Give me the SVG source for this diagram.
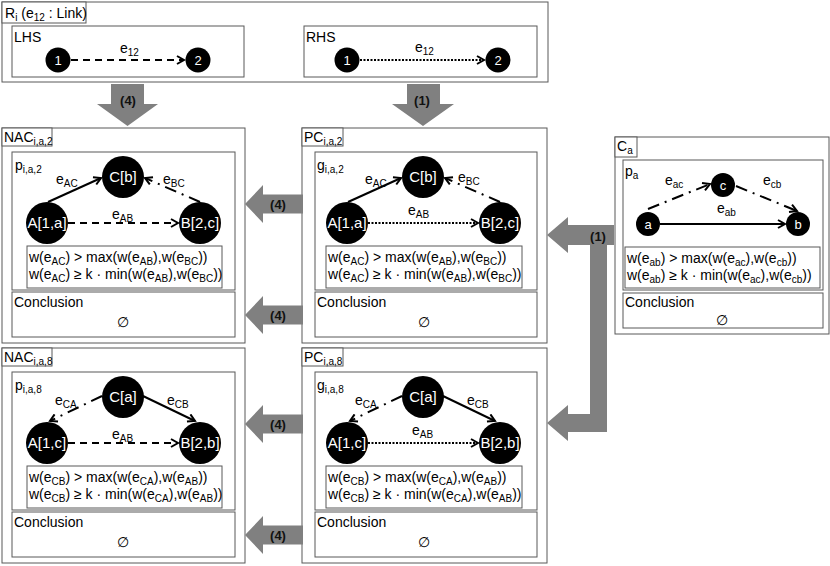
<svg xmlns="http://www.w3.org/2000/svg" width="830" height="566" viewBox="0 0 830 566">
<defs>
<style>
.box{fill:#fff;stroke:#595959;stroke-width:1}
.t{font-family:"Liberation Sans",Arial,sans-serif;font-size:14px;fill:#000}
.s{font-size:10px}
.nt{font-family:"Liberation Sans",Arial,sans-serif;font-size:15px;fill:#fff;text-anchor:middle}
.nts{font-family:"Liberation Sans",Arial,sans-serif;font-size:13px;fill:#fff;text-anchor:middle}
.node{fill:#000}
.big{fill:#808080}
.al{font-family:"Liberation Sans",Arial,sans-serif;font-size:13px;font-weight:bold;fill:#111;text-anchor:middle}
.e{fill:none;stroke:#000;stroke-width:2}
.solid{}
.dash{stroke-dasharray:7 5}
.dot{stroke-dasharray:2 1.5}
.dd{stroke-dasharray:12 6 2 6}
.mid{text-anchor:middle}
</style>
<marker id="ah" markerWidth="10" markerHeight="10" refX="8" refY="5" orient="auto" markerUnits="userSpaceOnUse">
<path d="M1,1 L8,5 L1,9" fill="none" stroke="#000" stroke-width="2"/>
</marker>
</defs>
<rect width="830" height="566" fill="#fff"/>

<!-- Rule R_i -->
<g id="rule">
<rect class="box" x="2" y="2" width="546" height="80"/>
<rect class="box" x="2" y="2" width="84" height="21"/>
<text class="t" x="5" y="18">R<tspan class="s" dy="3">i</tspan><tspan dy="-3"> (e</tspan><tspan class="s" dy="3">12</tspan><tspan dy="-3"> : Link)</tspan></text>
</g>
<g id="lhs">
<rect class="box" x="12" y="26" width="232" height="51"/>
<text class="t" x="14" y="42">LHS</text>
</g>
<g id="rhs">
<rect class="box" x="304" y="26" width="233" height="51"/>
<text class="t" x="306" y="42">RHS</text>
</g>
<g id="lhs-n1"><circle class="node" cx="58" cy="60" r="12.5"/><text class="nts" x="58" y="65">1</text></g>
<g id="lhs-n2"><circle class="node" cx="198" cy="60" r="12.5"/><text class="nts" x="198" y="65">2</text></g>
<g id="rhs-n1"><circle class="node" cx="347" cy="60" r="12.5"/><text class="nts" x="347" y="65">1</text></g>
<g id="rhs-n2"><circle class="node" cx="498" cy="60" r="12.5"/><text class="nts" x="498" y="65">2</text></g>

<!-- NAC i,a,2 -->
<g id="nac2">
<rect class="box" x="2" y="128" width="243" height="215"/>
<rect class="box" x="2" y="128" width="50" height="18"/>
<text class="t" x="4" y="142">NAC<tspan class="s" dy="3">i,a,2</tspan></text>
<rect class="box" x="12" y="152" width="223" height="138"/>
<text class="t" x="15" y="170">p<tspan class="s" dy="3">i,a,2</tspan></text>
<rect class="box" x="27" y="246" width="195" height="42"/>
<text class="t" x="29" y="262">w(e<tspan class="s" dy="3">AC</tspan><tspan dy="-3">) &gt; max(w(e</tspan><tspan class="s" dy="3">AB</tspan><tspan dy="-3">),w(e</tspan><tspan class="s" dy="3">BC</tspan><tspan dy="-3">))</tspan></text>
<text class="t" x="29" y="279">w(e<tspan class="s" dy="3">AC</tspan><tspan dy="-3">) ≥ k · min(w(e</tspan><tspan class="s" dy="3">AB</tspan><tspan dy="-3">),w(e</tspan><tspan class="s" dy="3">BC</tspan><tspan dy="-3">))</tspan></text>
<rect class="box" x="12" y="292" width="223" height="45"/>
<text class="t" x="14" y="307">Conclusion</text>
<text class="t mid" x="123" y="327">∅</text>
</g>
<g id="nac2-C"><circle class="node" cx="123" cy="177" r="21"/><text class="nt" x="123" y="182">C[b]</text></g>
<g id="nac2-A"><circle class="node" cx="47" cy="223" r="21"/><text class="nt" x="47" y="228">A[1,a]</text></g>
<g id="nac2-B"><circle class="node" cx="200" cy="223" r="21"/><text class="nt" x="200" y="228">B[2,c]</text></g>

<!-- PC i,a,2 -->
<g id="pc2">
<rect class="box" x="302" y="128" width="245" height="215"/>
<rect class="box" x="302" y="128" width="41" height="18"/>
<text class="t" x="304" y="142">PC<tspan class="s" dy="3">i,a,2</tspan></text>
<rect class="box" x="315" y="152" width="222" height="138"/>
<text class="t" x="317" y="170">g<tspan class="s" dy="3">i,a,2</tspan></text>
<rect class="box" x="326" y="246" width="196" height="42"/>
<text class="t" x="328" y="262">w(e<tspan class="s" dy="3">AC</tspan><tspan dy="-3">) &gt; max(w(e</tspan><tspan class="s" dy="3">AB</tspan><tspan dy="-3">),w(e</tspan><tspan class="s" dy="3">BC</tspan><tspan dy="-3">))</tspan></text>
<text class="t" x="328" y="279">w(e<tspan class="s" dy="3">AC</tspan><tspan dy="-3">) ≥ k · min(w(e</tspan><tspan class="s" dy="3">AB</tspan><tspan dy="-3">),w(e</tspan><tspan class="s" dy="3">BC</tspan><tspan dy="-3">))</tspan></text>
<rect class="box" x="315" y="292" width="222" height="45"/>
<text class="t" x="317" y="307">Conclusion</text>
<text class="t mid" x="424" y="327">∅</text>
</g>
<g id="pc2-C"><circle class="node" cx="423" cy="177" r="21"/><text class="nt" x="423" y="182">C[b]</text></g>
<g id="pc2-A"><circle class="node" cx="347" cy="223" r="21"/><text class="nt" x="347" y="228">A[1,a]</text></g>
<g id="pc2-B"><circle class="node" cx="500" cy="223" r="21"/><text class="nt" x="500" y="228">B[2,c]</text></g>

<!-- C_a -->
<g id="ca">
<rect class="box" x="615" y="137" width="214" height="197"/>
<rect class="box" x="615" y="137" width="22" height="20"/>
<text class="t" x="617" y="151">C<tspan class="s" dy="3">a</tspan></text>
<rect class="box" x="623" y="160" width="200" height="130"/>
<text class="t" x="625" y="176">p<tspan class="s" dy="3">a</tspan></text>
<rect class="box" x="625" y="247" width="195" height="41"/>
<text class="t" x="627" y="263">w(e<tspan class="s" dy="3">ab</tspan><tspan dy="-3">) &gt; max(w(e</tspan><tspan class="s" dy="3">ac</tspan><tspan dy="-3">),w(e</tspan><tspan class="s" dy="3">cb</tspan><tspan dy="-3">))</tspan></text>
<text class="t" x="627" y="280">w(e<tspan class="s" dy="3">ab</tspan><tspan dy="-3">) ≥ k · min(w(e</tspan><tspan class="s" dy="3">ac</tspan><tspan dy="-3">),w(e</tspan><tspan class="s" dy="3">cb</tspan><tspan dy="-3">))</tspan></text>
<rect class="box" x="623" y="293" width="200" height="35"/>
<text class="t" x="625" y="307">Conclusion</text>
<text class="t mid" x="722" y="325">∅</text>
</g>
<g id="ca-a"><circle class="node" cx="648" cy="224" r="12"/><text class="nts" x="648" y="229">a</text></g>
<g id="ca-c"><circle class="node" cx="723" cy="185" r="12"/><text class="nts" x="723" y="190">c</text></g>
<g id="ca-b"><circle class="node" cx="798" cy="224" r="12"/><text class="nts" x="798" y="229">b</text></g>

<!-- NAC i,a,8 -->
<g id="nac8">
<rect class="box" x="2" y="348" width="243" height="215"/>
<rect class="box" x="2" y="348" width="50" height="18"/>
<text class="t" x="4" y="362">NAC<tspan class="s" dy="3">i,a,8</tspan></text>
<rect class="box" x="12" y="372" width="223" height="138"/>
<text class="t" x="15" y="390">p<tspan class="s" dy="3">i,a,8</tspan></text>
<rect class="box" x="27" y="466" width="195" height="42"/>
<text class="t" x="29" y="482">w(e<tspan class="s" dy="3">CB</tspan><tspan dy="-3">) &gt; max(w(e</tspan><tspan class="s" dy="3">CA</tspan><tspan dy="-3">),w(e</tspan><tspan class="s" dy="3">AB</tspan><tspan dy="-3">))</tspan></text>
<text class="t" x="29" y="499">w(e<tspan class="s" dy="3">CB</tspan><tspan dy="-3">) ≥ k · min(w(e</tspan><tspan class="s" dy="3">CA</tspan><tspan dy="-3">),w(e</tspan><tspan class="s" dy="3">AB</tspan><tspan dy="-3">))</tspan></text>
<rect class="box" x="12" y="512" width="223" height="45"/>
<text class="t" x="14" y="527">Conclusion</text>
<text class="t mid" x="123" y="547">∅</text>
</g>
<g id="nac8-C"><circle class="node" cx="123" cy="397" r="21"/><text class="nt" x="123" y="402">C[a]</text></g>
<g id="nac8-A"><circle class="node" cx="47" cy="443" r="21"/><text class="nt" x="47" y="448">A[1,c]</text></g>
<g id="nac8-B"><circle class="node" cx="200" cy="443" r="21"/><text class="nt" x="200" y="448">B[2,b]</text></g>

<!-- PC i,a,8 -->
<g id="pc8">
<rect class="box" x="302" y="348" width="245" height="215"/>
<rect class="box" x="302" y="348" width="41" height="18"/>
<text class="t" x="304" y="362">PC<tspan class="s" dy="3">i,a,8</tspan></text>
<rect class="box" x="315" y="372" width="222" height="138"/>
<text class="t" x="317" y="390">g<tspan class="s" dy="3">i,a,8</tspan></text>
<rect class="box" x="326" y="466" width="196" height="42"/>
<text class="t" x="328" y="482">w(e<tspan class="s" dy="3">CB</tspan><tspan dy="-3">) &gt; max(w(e</tspan><tspan class="s" dy="3">CA</tspan><tspan dy="-3">),w(e</tspan><tspan class="s" dy="3">AB</tspan><tspan dy="-3">))</tspan></text>
<text class="t" x="328" y="499">w(e<tspan class="s" dy="3">CB</tspan><tspan dy="-3">) ≥ k · min(w(e</tspan><tspan class="s" dy="3">CA</tspan><tspan dy="-3">),w(e</tspan><tspan class="s" dy="3">AB</tspan><tspan dy="-3">))</tspan></text>
<rect class="box" x="315" y="512" width="222" height="45"/>
<text class="t" x="317" y="527">Conclusion</text>
<text class="t mid" x="424" y="547">∅</text>
</g>
<g id="pc8-C"><circle class="node" cx="423" cy="397" r="21"/><text class="nt" x="423" y="402">C[a]</text></g>
<g id="pc8-A"><circle class="node" cx="347" cy="443" r="21"/><text class="nt" x="347" y="448">A[1,c]</text></g>
<g id="pc8-B"><circle class="node" cx="500" cy="443" r="21"/><text class="nt" x="500" y="448">B[2,b]</text></g>

<!-- connectors -->
<g id="connectors">
<!-- big gray arrows -->
<polygon class="big" points="111,84 144,84 144,104 158,104 127.5,126 97,104 111,104"/>
<text class="al" x="128" y="105">(4)</text>
<polygon class="big" points="407,84 440,84 440,104 454,104 423,126 392,104 407,104"/>
<text class="al" x="422" y="105">(1)</text>
<polygon class="big" points="245,204 263,185 263,194.5 303,194.5 303,213.5 263,213.5 263,223"/>
<text class="al" x="278" y="209">(4)</text>
<polygon class="big" points="245,315 263,296 263,305.5 303,305.5 303,324.5 263,324.5 263,334"/>
<text class="al" x="278" y="320">(4)</text>
<polygon class="big" points="245,424 263,405 263,414.5 303,414.5 303,433.5 263,433.5 263,443"/>
<text class="al" x="278" y="429">(4)</text>
<polygon class="big" points="245,535 263,516 263,525.5 303,525.5 303,544.5 263,544.5 263,554"/>
<text class="al" x="278" y="540">(4)</text>
<polygon class="big" points="547,235 568,217 568,225 614,225 614,245 607,245 607,432 568,432 568,441 547,423 568,405 568,414 590,414 590,245 568,245 568,253"/>
<text class="al" x="598" y="241">(1)</text>

<!-- rule edges -->
<line class="e dash" x1="71" y1="60" x2="184" y2="60" marker-end="url(#ah)"/>
<text class="t" x="120" y="53">e<tspan class="s" dy="3">12</tspan></text>
<line class="e dot" x1="360" y1="60" x2="484" y2="60" marker-end="url(#ah)"/>
<text class="t" x="415" y="52">e<tspan class="s" dy="3">12</tspan></text>

<!-- NAC2 edges -->
<line class="e" x1="48" y1="202" x2="101" y2="178" marker-end="url(#ah)"/>
<text class="t" x="56" y="184">e<tspan class="s" dy="3">AC</tspan></text>
<line class="e dd" x1="200" y1="202" x2="145" y2="178" marker-end="url(#ah)"/>
<text class="t" x="163" y="184">e<tspan class="s" dy="3">BC</tspan></text>
<line class="e dash" x1="68" y1="223" x2="178" y2="223" marker-end="url(#ah)"/>
<text class="t" x="112" y="219">e<tspan class="s" dy="3">AB</tspan></text>

<!-- PC2 edges -->
<line class="e" x1="348" y1="202" x2="401" y2="178" marker-end="url(#ah)"/>
<text class="t" x="365" y="184">e<tspan class="s" dy="3">AC</tspan></text>
<line class="e dd" x1="500" y1="202" x2="445" y2="178" marker-end="url(#ah)"/>
<text class="t" x="458" y="182">e<tspan class="s" dy="3">BC</tspan></text>
<line class="e dot" x1="368" y1="223" x2="478" y2="223" marker-end="url(#ah)"/>
<text class="t" x="408" y="215">e<tspan class="s" dy="3">AB</tspan></text>

<!-- Ca edges -->
<line class="e dd" x1="648" y1="209" x2="710" y2="184" marker-end="url(#ah)"/>
<text class="t" x="665" y="185">e<tspan class="s" dy="3">ac</tspan></text>
<line class="e dd" x1="736" y1="186" x2="797" y2="211" marker-end="url(#ah)"/>
<text class="t" x="763" y="185">e<tspan class="s" dy="3">cb</tspan></text>
<line class="e" x1="660" y1="224" x2="785" y2="224" marker-end="url(#ah)"/>
<text class="t" x="717" y="213">e<tspan class="s" dy="3">ab</tspan></text>

<!-- NAC8 edges -->
<line class="e dd" x1="102" y1="396" x2="50" y2="421" marker-end="url(#ah)"/>
<text class="t" x="55" y="405">e<tspan class="s" dy="3">CA</tspan></text>
<line class="e" x1="143" y1="396" x2="195" y2="421" marker-end="url(#ah)"/>
<text class="t" x="167" y="405">e<tspan class="s" dy="3">CB</tspan></text>
<line class="e dash" x1="68" y1="443" x2="178" y2="443" marker-end="url(#ah)"/>
<text class="t" x="112" y="439">e<tspan class="s" dy="3">AB</tspan></text>

<!-- PC8 edges -->
<line class="e dd" x1="402" y1="396" x2="350" y2="421" marker-end="url(#ah)"/>
<text class="t" x="355" y="405">e<tspan class="s" dy="3">CA</tspan></text>
<line class="e" x1="443" y1="396" x2="495" y2="421" marker-end="url(#ah)"/>
<text class="t" x="467" y="405">e<tspan class="s" dy="3">CB</tspan></text>
<line class="e dot" x1="368" y1="443" x2="478" y2="443" marker-end="url(#ah)"/>
<text class="t" x="412" y="435">e<tspan class="s" dy="3">AB</tspan></text>
</g>
</svg>
